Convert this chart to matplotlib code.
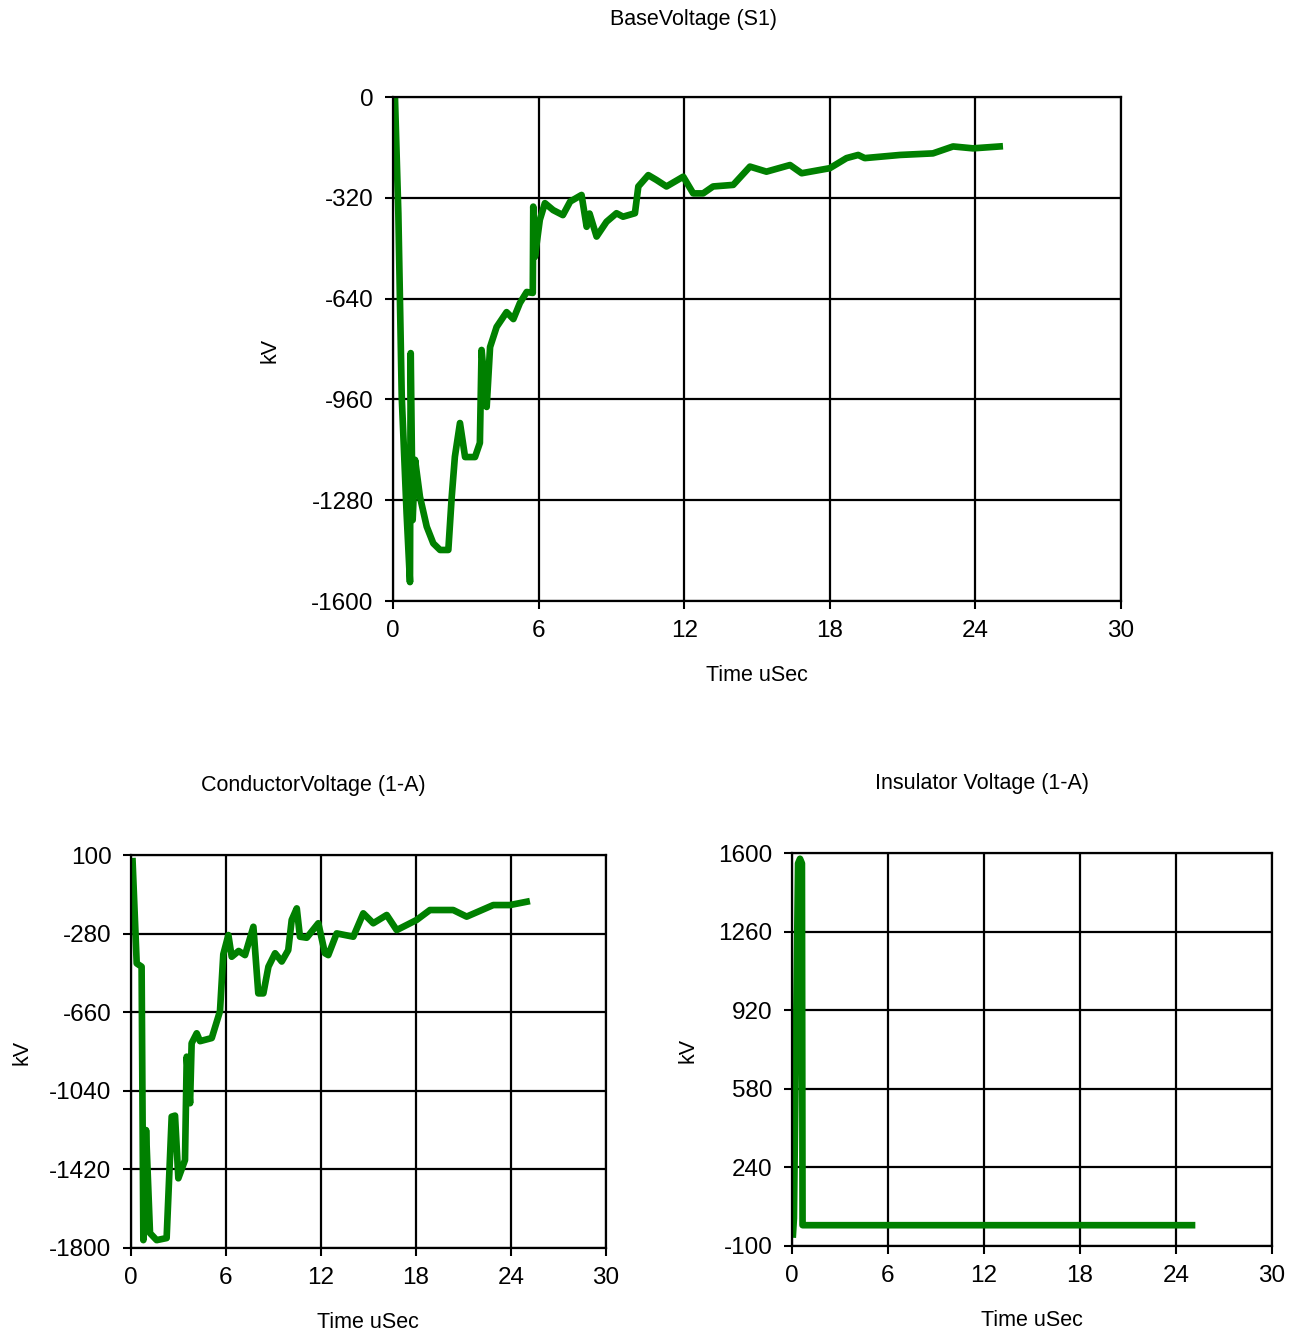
import numpy as np
import matplotlib
matplotlib.use("Agg")
import matplotlib.pyplot as plt

plt.rcParams['font.family'] = ['Liberation Sans', 'DejaVu Sans']
plt.rcParams['axes.unicode_minus'] = False

# BaseVoltage (S1)
base_t = [0.08, 0.22, 0.36, 0.56, 0.70, 0.73, 0.81, 0.91, 1.11, 1.39, 1.66, 1.94,
          2.28, 2.42, 2.55, 2.76, 2.97, 3.38, 3.58, 3.65, 3.86, 4.0, 4.27, 4.68,
          4.96, 5.23, 5.51, 5.76, 5.78, 5.85, 6.05, 6.26, 6.60, 7.0, 7.3, 7.77,
          7.98, 8.1, 8.39, 8.8, 9.21, 9.48, 9.97, 10.11, 10.52, 10.85, 11.27,
          11.96, 12.37, 12.78, 13.19, 14.02, 14.71, 15.39, 16.36, 16.84, 18.0,
          18.69, 19.17, 19.44, 20.89, 22.25, 23.08, 23.9, 25.0]
base_v = [0, -369, -951, -1321, -1540, -813, -1343, -1152, -1269, -1364, -1417, -1438,
          -1438, -1269, -1142, -1035, -1143, -1143, -1098, -803, -984, -794, -730, -683,
          -705, -654, -619, -622, -348, -507, -390, -337, -359, -375, -332, -311,
          -412, -370, -443, -396, -369, -380, -369, -284, -248, -263, -284,
          -253, -306, -306, -284, -279, -221, -237, -216, -242, -226,
          -194, -184, -194, -184, -179, -157, -163, -157]

# ConductorVoltage (1-A)
cond_t = [0.1, 0.36, 0.67, 0.78, 0.95, 1.2, 1.62, 2.25, 2.57, 2.78, 2.99, 3.41,
          3.52, 3.73, 3.83, 4.15, 4.36, 5.1, 5.62, 5.83, 6.15, 6.36, 6.8, 7.2,
          7.73, 8.04, 8.36, 8.68, 9.1, 9.52, 9.93, 10.15, 10.47, 10.67, 11.1,
          11.83, 12.25, 12.46, 12.99, 14.04, 14.67, 15.3, 16.15, 16.78, 18.04,
          18.88, 20.35, 21.2, 22.88, 23.93, 24.99]
cond_v = [70, -424, -440, -1762, -1230, -1728, -1762, -1752, -1165, -1160, -1463, -1375,
          -875, -1100, -810, -762, -800, -785, -655, -380, -287, -392, -364, -384,
          -247, -569, -569, -440, -375, -415, -360, -214, -158, -295, -300,
          -230, -375, -384, -279, -295, -182, -230, -190, -263, -214,
          -166, -166, -198, -142, -142, -126]

# Insulator Voltage (1-A)
ins_t = [0.06, 0.12, 0.38, 0.50, 0.62, 0.66, 25.0]
ins_v = [-50, 20, 1555, 1575, 1555, -10, -10]

x_ticks = [0, 6, 12, 18, 24, 30]
base_yticks = [0, -320, -640, -960, -1280, -1600]
cond_yticks = [100, -280, -660, -1040, -1420, -1800]
ins_yticks = [1600, 1260, 920, 580, 240, -100]

W, H = 1297, 1334
fig = plt.figure(figsize=(W / 100, H / 100), dpi=100)


def px_axes(x0, y0, x1, y1):
    return fig.add_axes([x0 / W, 1 - y1 / H, (x1 - x0) / W, (y1 - y0) / H])


def style(ax, yticks):
    ax.set_xlim(0, 30)
    ax.set_ylim(min(yticks), max(yticks))
    ax.set_xticks(x_ticks)
    ax.set_yticks(yticks)
    ax.grid(True, color='black', lw=1.6)
    for s in ax.spines.values():
        s.set_color('black')
        s.set_linewidth(1.6)
    ax.tick_params(direction='out', length=6, width=1.5, labelsize=17.5,
                   pad=8, colors='black')


def ftext(x, y, s, **kw):
    fig.text(x / W, 1 - y / H, s, ha='center', va='center', fontsize=15.5, **kw)


green = '#008000'
lw = 4.8

ax1 = px_axes(393, 97, 1121, 601)
ax1.plot(base_t, base_v, color=green, lw=lw, solid_joinstyle='round')
style(ax1, base_yticks)
ftext(694, 20, 'BaseVoltage (S1)')
ftext(757, 675, 'Time uSec')
ftext(270, 350, 'kV', rotation=90)

ax2 = px_axes(131, 855, 606, 1248)
ax2.plot(cond_t, cond_v, color=green, lw=lw, solid_joinstyle='round')
style(ax2, cond_yticks)
ftext(313, 785, 'ConductorVoltage (1-A)')
ftext(368, 1322, 'Time uSec')
ftext(22, 1052, 'kV', rotation=90)

ax3 = px_axes(792, 853, 1272, 1246)
ax3.plot(ins_t, ins_v, color=green, lw=lw, solid_joinstyle='round')
style(ax3, ins_yticks)
ftext(982, 783, 'Insulator Voltage (1-A)')
ftext(1032, 1320, 'Time uSec')
ftext(688, 1050, 'kV', rotation=90)

fig.savefig('out.png', dpi=100)
